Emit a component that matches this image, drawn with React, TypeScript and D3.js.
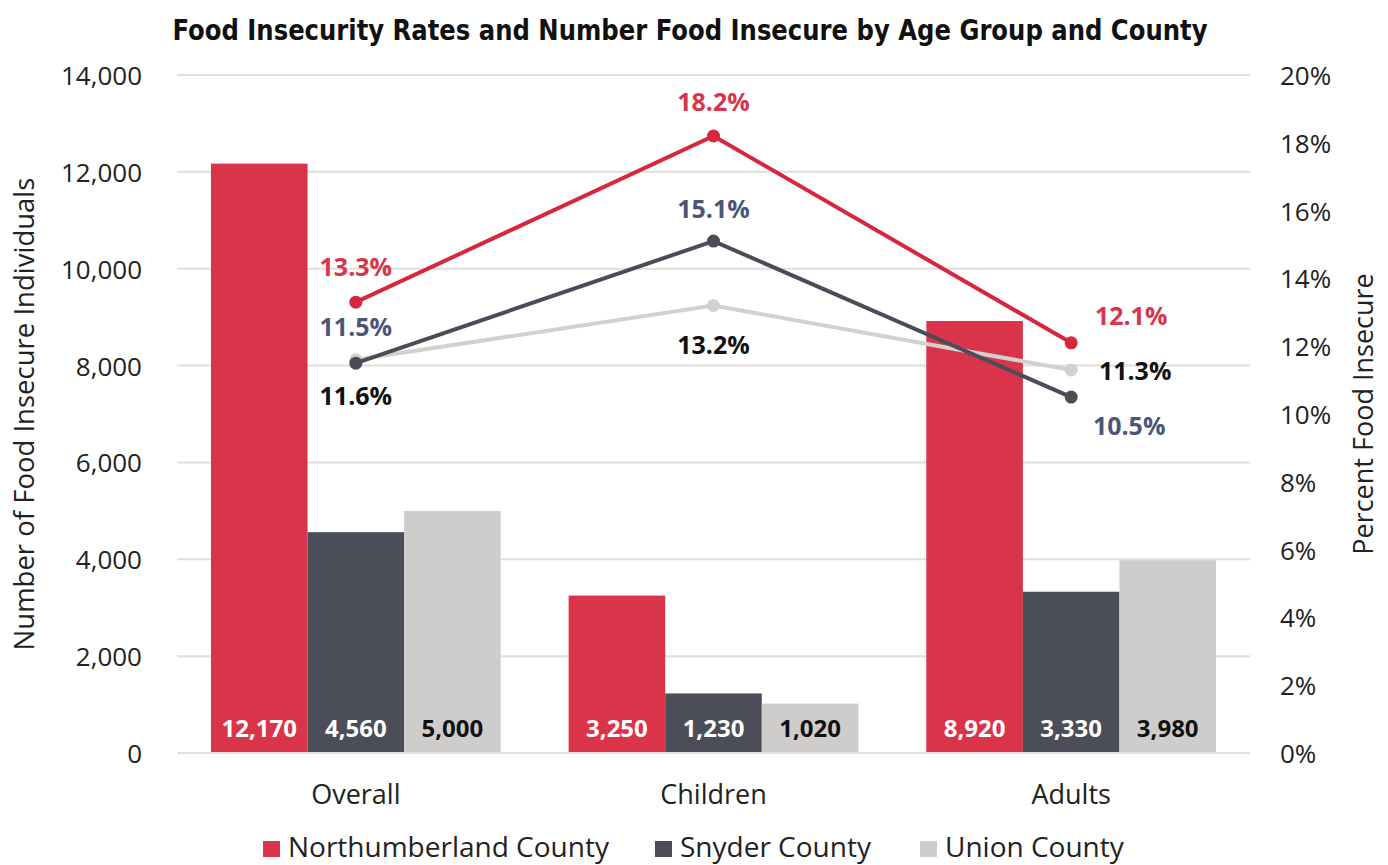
import React from "react";
import * as d3 from "d3";

const categories = ["Overall", "Children", "Adults"];
const counties = ["Northumberland County", "Snyder County", "Union County"];
const northumberlandCount = [12170, 3250, 8920];
const snyderCount = [4560, 1230, 3330];
const unionCount = [5000, 1020, 3980];
const northumberlandPct = [13.3, 18.2, 12.1];
const snyderPct = [11.5, 15.1, 10.5];
const unionPct = [11.6, 13.2, 11.3];
const leftTicks = [0, 2000, 4000, 6000, 8000, 10000, 12000, 14000];
const rightTicks = [0, 2, 4, 6, 8, 10, 12, 14, 16, 18, 20];

const barColors = ["#d9344a", "#4b4e58", "#cfcdcb"];
const lineColors = ["#d7263d", "#4a4d58", "#d3d1ce"];
const barLabelColors = ["#ffffff", "#ffffff", "#111111"];
const pctLabelColors = ["#d9344a", "#4b5677", "#111111"];
// label offsets per series per category [dx, dy] relative to point
const pctLabelOffsets = [
  [[0, -34], [0, -33], [60, -26]],
  [[0, -35], [0, -31], [58, 30]],
  [[0, 37], [0, 40], [64, 2]],
];

const FONT = "'Open Sans', 'Noto Sans', sans-serif";

export default function App() {
  const W = 1388, H = 865;
  const x0 = 177, x1 = 1250, yTop = 75, yBot = 753;
  const xBand = d3.scaleBand<string>().domain(categories).range([x0, x1]).paddingInner(0.19).paddingOuter(0.095);
  const xSub = d3.scaleBand<string>().domain(counties).range([0, xBand.bandwidth()]).padding(0);
  const yL = d3.scaleLinear().domain([0, 14000]).range([yBot, yTop]);
  const yR = d3.scaleLinear().domain([0, 20]).range([yBot, yTop]);
  const counts = [northumberlandCount, snyderCount, unionCount];
  const pcts = [northumberlandPct, snyderPct, unionPct];
  const cx = (c: string) => (xBand(c) as number) + xBand.bandwidth() / 2;
  const line = d3.line<number>().x((_, i) => cx(categories[i])).y((d) => yR(d));
  const fmt = d3.format(",");

  return (
    <svg width={W} height={H} style={{ display: "block", position: "absolute", left: 0, top: 0, background: "#fff" }}>
      <text x={690} y={40} textAnchor="middle" fontFamily="'Liberation Sans Narrow', 'DejaVu Sans Condensed', sans-serif" fontWeight="bold" fontSize={28} textLength={1035} lengthAdjust="spacingAndGlyphs" fill="#111">
        Food Insecurity Rates and Number Food Insecure by Age Group and County
      </text>
      {leftTicks.map((t) => (
        <g key={"g" + t}>
          {t > 0 && <line x1={x0} x2={x1} y1={yL(t)} y2={yL(t)} stroke="#e3dedb" strokeWidth={2} />}
          <text x={142} y={yL(t) + 10} textAnchor="end" fontFamily={FONT} fontSize={26} fill="#222">{fmt(t)}</text>
        </g>
      ))}
      {rightTicks.map((t) => (
        <text key={"r" + t} x={1280} y={yR(t) + 10} textAnchor="start" fontFamily={FONT} fontSize={26} fill="#222">{t + "%"}</text>
      ))}
      <text transform={`translate(34, ${(yTop + yBot) / 2}) rotate(-90)`} textAnchor="middle" fontFamily={FONT} fontSize={27.5} fill="#222">Number of Food Insecure Individuals</text>
      <text transform={`translate(1373, ${(yTop + yBot) / 2}) rotate(-90)`} textAnchor="middle" fontFamily={FONT} fontSize={27} fill="#222">Percent Food Insecure</text>
      {counties.map((co, si) =>
        categories.map((c, ci) => {
          const bx = (xBand(c) as number) + (xSub(co) as number);
          const v = counts[si][ci];
          return (
            <g key={co + c}>
              <rect x={bx} y={yL(v)} width={xSub.bandwidth()} height={yL(0) - yL(v)} fill={barColors[si]} />
              <text x={bx + xSub.bandwidth() / 2} y={737} textAnchor="middle" fontFamily={FONT} fontWeight="bold" fontSize={24} fill={barLabelColors[si]}>{fmt(v)}</text>
            </g>
          );
        })
      )}
      <line x1={x0} x2={x1} y1={yBot} y2={yBot} stroke="#e3dedb" strokeWidth={2} />
      {[2, 1, 0].map((si) => (
        <g key={"l" + si}>
          <path d={line(pcts[si]) as string} fill="none" stroke={lineColors[si]} strokeWidth={4} />
          {pcts[si].map((p, ci) => (
            <circle key={ci} cx={cx(categories[ci])} cy={yR(p)} r={6.5} fill={lineColors[si]} />
          ))}
        </g>
      ))}
      {[0, 1, 2].map((si) =>
        pcts[si].map((p, ci) => (
          <text key={"pl" + si + ci} x={cx(categories[ci]) + pctLabelOffsets[si][ci][0]} y={yR(p) + pctLabelOffsets[si][ci][1] + 8} textAnchor="middle" fontFamily={FONT} fontWeight="bold" fontSize={25} fill={pctLabelColors[si]}>{p.toFixed(1) + "%"}</text>
        ))
      )}
      {categories.map((c) => (
        <text key={"c" + c} x={cx(c)} y={804} textAnchor="middle" fontFamily={FONT} fontSize={27} fill="#222">{c}</text>
      ))}
      {counties.map((co, i) => {
        const lx = [263, 655, 920][i];
        return (
          <g key={"lg" + co}>
            <rect x={lx} y={841} width={17} height={16} fill={barColors[i]} />
            <text x={lx + 25} y={857} fontFamily={FONT} fontSize={28} fill="#222">{co}</text>
          </g>
        );
      })}
    </svg>
  );
}
